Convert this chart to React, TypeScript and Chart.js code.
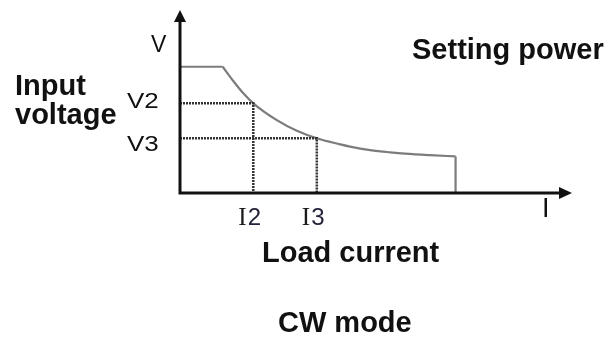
import React, { useEffect, useRef } from "react";
import { Chart, registerables } from "chart.js";

Chart.register(...registerables);

// Axis ranges (arbitrary units: I = load current, V = input voltage)
const currentMax = 10;
const voltageMax = 10;

// Constant-voltage top segment
const flatCurrent = [0, 1.09];
const flatVoltage = [6.9, 6.9];

// Constant-power curve
const curveCurrent = [1.09, 1.36, 1.61, 1.87, 2.47, 2.98, 3.49, 4.08, 4.34, 4.85, 5.36, 5.94, 6.38, 7.03];
const curveVoltage = [6.9, 6.12, 5.46, 4.9, 3.98, 3.4, 2.99, 2.66, 2.53, 2.34, 2.22, 2.12, 2.07, 2.0];

// Vertical drop at max current
const dropCurrent = [7.03, 7.03];
const dropVoltage = [2.0, 0];

// Marked operating points
const markCurrents = [1.87, 3.49];
const markVoltages = [4.9, 2.99];
const markCurrentLabels = ["2", "3"];
const markVoltageLabels = ["V2", "V3"];

const SANS = "'Liberation Sans', Arial, sans-serif";
const SERIF = "'Liberation Serif', 'Times New Roman', serif";

function pts(xs: number[], ys: number[]) {
  return xs.map((x, i) => ({ x, y: ys[i] }));
}

export default function App() {
  const ref = useRef<HTMLCanvasElement | null>(null);

  useEffect(() => {
    document.body.style.margin = "0";
    const canvas = ref.current;
    if (!canvas) return;

    const guideStyle = {
      borderColor: "#333",
      borderWidth: 2.5,
      borderDash: [2, 1],
      pointRadius: 0,
      tension: 0,
      fill: false,
      clip: false as any,
    };
    const curveStyle = {
      borderColor: "#7c7c7c",
      borderWidth: 2.2,
      pointRadius: 0,
      tension: 0,
      fill: false,
      clip: false as any,
    };

    const guides = markCurrents.map((c, i) => ({
      ...guideStyle,
      data: [
        { x: 0, y: markVoltages[i] },
        { x: c, y: markVoltages[i] },
        { x: c, y: 0 },
      ],
    }));

    const axesPlugin = {
      id: "axesAndLabels",
      afterDatasetsDraw(chart: any) {
        const ctx = chart.ctx as CanvasRenderingContext2D;
        const xs = chart.scales.x;
        const ys = chart.scales.y;
        const x0 = xs.getPixelForValue(0);
        const y0 = ys.getPixelForValue(0);
        const xEnd = xs.getPixelForValue(currentMax);
        const yEnd = ys.getPixelForValue(voltageMax);
        ctx.save();
        ctx.strokeStyle = "#111";
        ctx.fillStyle = "#111";
        ctx.lineWidth = 3;
        ctx.lineCap = "butt";
        ctx.beginPath();
        ctx.moveTo(x0, y0 + 1.5);
        ctx.lineTo(x0, yEnd + 8);
        ctx.moveTo(x0 - 1.5, y0);
        ctx.lineTo(xEnd - 8, y0);
        ctx.stroke();
        // arrow heads
        ctx.beginPath();
        ctx.moveTo(x0, yEnd);
        ctx.lineTo(x0 - 6, yEnd + 12);
        ctx.lineTo(x0 + 6, yEnd + 12);
        ctx.closePath();
        ctx.fill();
        ctx.beginPath();
        ctx.moveTo(xEnd, y0);
        ctx.lineTo(xEnd - 13, y0 - 6);
        ctx.lineTo(xEnd - 13, y0 + 6);
        ctx.closePath();
        ctx.fill();
        ctx.restore();
      },
      afterDraw(chart: any) {
        const ctx = chart.ctx as CanvasRenderingContext2D;
        const xs = chart.scales.x;
        const ys = chart.scales.y;
        ctx.save();
        ctx.textBaseline = "alphabetic";
        ctx.textAlign = "left";
        ctx.fillStyle = "#111";

        // bold captions
        ctx.font = `bold 29px ${SANS}`;
        ctx.fillText("Setting power", 412, 59);
        ctx.fillText("Input", 15, 95);
        ctx.fillText("voltage", 15, 124);
        ctx.fillText("Load current", 262, 262);
        ctx.fillText("CW mode", 278, 332);

        // axis letters
        ctx.fillStyle = "#111";
        ctx.font = `23px ${SANS}`;
        ctx.fillText("V", 151, 52);
        ctx.font = `27px ${SANS}`;
        ctx.fillText("I", 542, 217);

        // voltage marks
        ctx.font = `22px ${SANS}`;
        markVoltageLabels.forEach((lab, i) => {
          const py = ys.getPixelForValue(markVoltages[i]);
          const base = i === 0 ? py + 5 : py + 13;
          ctx.save();
          ctx.translate(127, base);
          ctx.scale(1.18, 1);
          ctx.fillText(lab, 0, 0);
          ctx.restore();
        });

        // current marks: serif "I" + sans digit
        markCurrentLabels.forEach((d, i) => {
          const px = xs.getPixelForValue(markCurrents[i]);
          const left = px - 15;
          ctx.font = `25px ${SERIF}`;
          ctx.fillStyle = "#1a1a1a";
          ctx.fillText("I", left, 225);
          const w = ctx.measureText("I").width;
          ctx.font = `24px ${SANS}`;
          ctx.fillStyle = "#22223a";
          ctx.fillText(d, left + w + 1, 225);
        });
        ctx.restore();
      },
    };

    const chart = new Chart(canvas, {
      type: "line",
      data: {
        datasets: [
          ...guides,
          { ...curveStyle, data: pts(flatCurrent, flatVoltage) },
          { ...curveStyle, cubicInterpolationMode: "monotone", data: pts(curveCurrent, curveVoltage) },
          { ...curveStyle, data: pts(dropCurrent, dropVoltage) },
        ] as any,
      },
      options: {
        responsive: false,
        animation: false,
        events: [],
        layout: { padding: { left: 180, right: 34, top: 10, bottom: 145 } },
        scales: {
          x: { type: "linear", min: 0, max: currentMax, display: false },
          y: { type: "linear", min: 0, max: voltageMax, display: false },
        },
        plugins: {
          legend: { display: false },
          tooltip: { enabled: false },
        },
      },
      plugins: [axesPlugin],
    });

    return () => chart.destroy();
  }, []);

  return (
    <canvas
      ref={ref}
      width={606}
      height={338}
      style={{ display: "block", position: "absolute", left: 0, top: 0, background: "#fff" }}
    />
  );
}
